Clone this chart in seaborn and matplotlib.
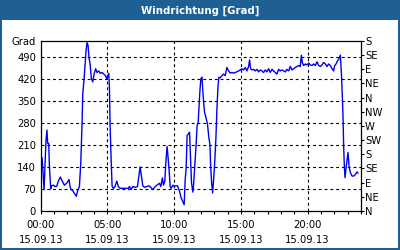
import matplotlib
matplotlib.use("Agg")
import matplotlib.pyplot as plt
from matplotlib.patches import Rectangle
import seaborn as sns
import pandas as pd

# ---- data (hours since 00:00 on 15.09.13, wind direction in degrees) ----
hours = [
    0.00, 0.10, 0.15, 0.25, 0.30, 0.40, 0.47, 0.52, 0.60, 0.65, 0.75, 0.82, 0.95,
    1.07, 1.20, 1.32, 1.47, 1.62, 1.77, 1.95, 2.12, 2.20, 2.27, 2.40, 2.50, 2.67,
    2.77, 2.90, 3.00, 3.10, 3.15, 3.25, 3.32, 3.40, 3.47, 3.55, 3.62, 3.70, 3.80,
    3.90, 4.00, 4.12, 4.22, 4.35, 4.47, 4.60, 4.72, 4.85, 4.95, 5.02, 5.10, 5.15,
    5.20, 5.27, 5.35, 5.45, 5.57, 5.70, 5.82, 5.95, 6.15, 6.35, 6.57, 6.65, 6.77,
    6.90, 7.07, 7.25, 7.35, 7.45, 7.55, 7.65, 7.77, 7.95, 8.12, 8.25, 8.40, 8.52,
    8.70, 8.90, 9.00, 9.12, 9.20, 9.30, 9.37, 9.47, 9.55, 9.62, 9.70, 9.77, 9.90,
    10.00, 10.12, 10.25, 10.40, 10.52, 10.65, 10.75, 10.82, 10.90, 10.97, 11.07,
    11.15, 11.22, 11.30, 11.40, 11.45, 11.55, 11.65, 11.72, 11.80, 11.88, 11.93,
    12.00, 12.08, 12.13, 12.20, 12.28, 12.38, 12.50, 12.60, 12.68, 12.73, 12.80,
    12.88, 12.95, 13.03, 13.13, 13.20, 13.28, 13.35, 13.45, 13.58, 13.70, 13.83,
    13.95, 14.08, 14.20, 14.33, 14.45, 14.58, 14.70, 14.83, 14.95, 15.08, 15.20,
    15.33, 15.45, 15.58, 15.65, 15.73, 15.83, 15.95, 16.08, 16.20, 16.33, 16.45,
    16.58, 16.70, 16.83, 16.95, 17.08, 17.20, 17.33, 17.45, 17.58, 17.70, 17.83,
    17.95, 18.08, 18.20, 18.33, 18.45, 18.58, 18.70, 18.83, 18.95, 19.08, 19.20,
    19.33, 19.45, 19.53, 19.60, 19.70, 19.83, 19.95, 20.08, 20.20, 20.33, 20.45,
    20.58, 20.70, 20.83, 20.95, 21.08, 21.20, 21.33, 21.45, 21.58, 21.70, 21.83,
    21.95, 22.03, 22.13, 22.25, 22.35, 22.45, 22.53, 22.60, 22.65, 22.70, 22.75,
    22.80, 22.88, 22.95, 23.03, 23.10, 23.20, 23.33, 23.45, 23.58, 23.70, 23.78,
]
direction = [
    115, 170, 140, 68, 120, 226, 257, 215, 215, 145, 70, 80, 82,
    78, 78, 95, 108, 95, 82, 88, 100, 78, 68, 65, 57, 47,
    65, 78, 150, 280, 370, 420, 460, 510, 535, 525, 488, 467, 420,
    410, 435, 452, 440, 445, 437, 440, 435, 430, 420, 430, 437, 392,
    270, 173, 78, 72, 78, 95, 78, 72, 72, 72, 72, 78, 68,
    78, 75, 78, 110, 140, 110, 80, 75, 78, 80, 75, 68, 75,
    82, 88, 78, 105, 82, 95, 150, 205, 168, 130, 78, 72, 82,
    78, 80, 80, 63, 42, 30, 20, 95, 138, 240, 245,
    250, 175, 90, 60, 80, 148, 215, 272, 282, 340, 382,
    420, 425, 395, 350, 313, 297, 275, 233, 212, 148, 95,
    57, 95, 148, 233, 318, 393, 425, 423, 430, 435, 430,
    456, 445, 438, 440, 438, 440, 442, 445, 448, 452, 448,
    456, 445, 459, 480, 452, 448, 450, 445, 450, 442, 448,
    445, 440, 448, 442, 452, 440, 450, 445, 440, 435, 450,
    445, 448, 445, 442, 450, 445, 459, 448, 452, 456, 459,
    462, 459, 495, 472, 462, 467, 464, 470, 464, 462, 467,
    462, 474, 462, 459, 464, 472, 467, 459, 467, 462, 452,
    445, 462, 467, 478, 483, 495, 440, 365, 302, 207, 143,
    106, 138, 160, 186, 143, 122, 111, 111, 116, 124, 120,
]

left_ticks = [0, 70, 140, 210, 280, 350, 420, 490]
right_ticks = [0, 45, 90, 135, 180, 225, 270, 315, 360, 405, 450, 495, 540]
right_labels = ["N", "NE", "E", "SE", "S", "SW", "W", "NW", "N", "NE", "E", "SE", "S"]
x_major = [0, 5, 10, 15, 20]
x_times = ["00:00", "05:00", "10:00", "15:00", "20:00"]
x_date = "15.09.13"
title = "Windrichtung [Grad]"
unit = "Grad"

df = pd.DataFrame({"hour": hours, "dir": direction})

sns.set_theme(style="white")
plt.rcParams["font.family"] = ["DejaVu Sans"]
FS = 7.2

BLUE_FRAME = "#1f6094"
fig = plt.figure(figsize=(4, 2.5), dpi=100)
fig.patch.set_facecolor("white")

ax = fig.add_axes([40.7 / 400, 1 - 211 / 250, (361 - 40.7) / 400, (211 - 41) / 250])
ax.set_facecolor("white")
sns.lineplot(data=df, x="hour", y="dir", ax=ax, color="#0000f0", linewidth=1.0)

ax.set_xlim(0, 24)
ax.set_ylim(0, 540)
ax.set_xlabel("")
ax.set_ylabel("")

ax.set_yticks(left_ticks + [540])
ax.set_yticklabels([str(v) for v in left_ticks] + [unit])
ax.tick_params(axis="y", which="both", left=True, length=0, pad=3.4,
               labelsize=FS, colors="black")
ax.set_xticks(x_major)
ax.set_xticks(list(range(0, 25)), minor=True)
ax.set_xticklabels([f"{t}\n{x_date}" for t in x_times], linespacing=1.7)
ax.tick_params(axis="x", which="both", bottom=True, direction="out", length=2.2,
               width=0.8, pad=4.0, labelsize=FS, colors="black")

for v in left_ticks[1:]:
    ax.axhline(v, color="black", lw=0.8, ls=(0, (2.6, 2.6)), zorder=0.5)
for v in x_major[1:]:
    ax.axvline(v, color="black", lw=0.8, ls=(0, (2.6, 2.6)), zorder=0.5)

for s in ax.spines.values():
    s.set_color("black")
    s.set_linewidth(0.9)
    s.set_visible(True)

ax2 = ax.twinx()
ax2.set_ylim(0, 540)
ax2.set_yticks(right_ticks)
ax2.set_yticklabels(right_labels)
ax2.tick_params(axis="y", right=True, direction="out", length=2.0, width=0.8,
                pad=0.8, labelsize=FS, colors="black")
ax2.grid(False)
for s in ax2.spines.values():
    s.set_visible(False)

# frame and title bar
fig.add_artist(Rectangle((0, 1 - 20 / 250), 1, 20 / 250, transform=fig.transFigure,
                         facecolor=BLUE_FRAME, edgecolor="none"))
fig.add_artist(Rectangle((0, 0), 2 / 400, 1, transform=fig.transFigure,
                         facecolor=BLUE_FRAME, edgecolor="none"))
fig.add_artist(Rectangle((1 - 2 / 400, 0), 2 / 400, 1, transform=fig.transFigure,
                         facecolor=BLUE_FRAME, edgecolor="none"))
fig.add_artist(Rectangle((0, 0), 1, 2 / 250, transform=fig.transFigure,
                         facecolor=BLUE_FRAME, edgecolor="none"))
fig.text(0.5, 1 - 10.5 / 250, title, color="white", fontsize=7.3, fontweight="bold",
         ha="center", va="center")

fig.savefig("out.png", dpi=100)
